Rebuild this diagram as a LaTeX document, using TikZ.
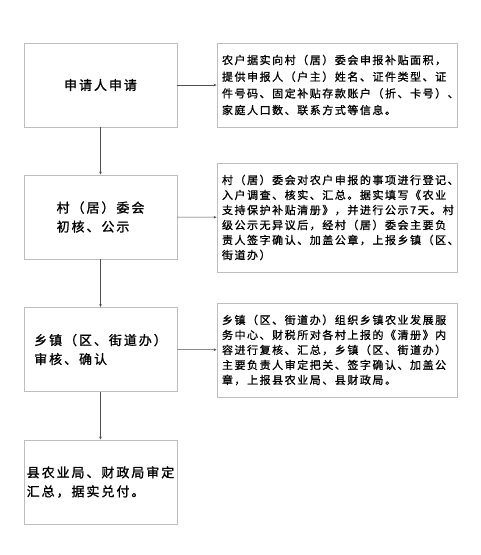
\documentclass[tikz,border=0pt]{standalone}
\usepackage{fontspec}
\newfontfamily\cjkL[LetterSpace=15,FakeBold=1.2]{Noto Sans CJK SC}
\newfontfamily\cjkR[LetterSpace=14,FakeBold=1]{Noto Sans CJK SC}
\usetikzlibrary{arrows.meta}
\definecolor{boxgray}{HTML}{BDBDBD}
\definecolor{linegray}{HTML}{505050}
\begin{document}
\begin{tikzpicture}[x=1pt,y=-1pt,
  leftbox/.style={draw=boxgray,line width=0.9pt,minimum width=153pt,minimum height=84pt,
    inner sep=0pt,align=left,font=\cjkL\fontsize{13}{19}\selectfont},
  rightbox/.style={draw=boxgray,line width=0.9pt,minimum width=240pt,inner xsep=5pt,
    text width=230pt,align=left},
  conn/.style={draw=linegray,line width=0.5pt,-{Stealth[length=3pt,width=2.6pt]}}]
\useasboundingbox (0,0) rectangle (480,555);
\fill[white] (0,0) rectangle (480,555);
\node[leftbox] (a1) at (100.5,85) {申请人申请};
\node[leftbox] (a2) at (100.5,217) {村（居）委会\\初核、公示};
\node[leftbox] (a3) at (100.5,349.5) {乡镇（区、街道办）\\审核、确认};
\node[leftbox] (a4) at (100.5,482) {县农业局、财政局审定\\汇总，据实兑付。};
\node[rightbox,minimum height=84pt,font=\cjkR\fontsize{11}{16.7}\selectfont] (b1) at (337,85)
  {农户据实向村（居）委会申报补贴面积，\\提供申报人（户主）姓名、证件类型、证\\件号码、固定补贴存款账户（折、卡号）、\\家庭人口数、联系方式等信息。};
\node[rightbox,minimum height=109pt,font=\cjkR\fontsize{11}{15}\selectfont] (b2) at (337,217.5)
  {村（居）委会对农户申报的事项进行登记、\\入户调查、核实、汇总。据实填写《农业\\支持保护补贴清册》，并进行公示7天。村\\级公示无异议后，经村（居）委会主要负\\责人签字确认、加盖公章，上报乡镇（区、\\街道办）};
\node[rightbox,minimum height=94pt,font=\cjkR\fontsize{11}{15}\selectfont] (b3) at (337,350)
  {乡镇（区、街道办）组织乡镇农业发展服\\务中心、财税所对各村上报的《清册》内\\容进行复核、汇总，乡镇（区、街道办）\\主要负责人审定把关、签字确认、加盖公\\章，上报县农业局、县财政局。};
\draw[conn] (a1) -- (b1);
\draw[conn] (a2) -- (b2);
\draw[conn] (a3) -- (b3);
\draw[conn] (a1) -- (a2);
\draw[conn] (a2) -- (a3);
\draw[conn] (a3) -- (a4);
\end{tikzpicture}
\end{document}
